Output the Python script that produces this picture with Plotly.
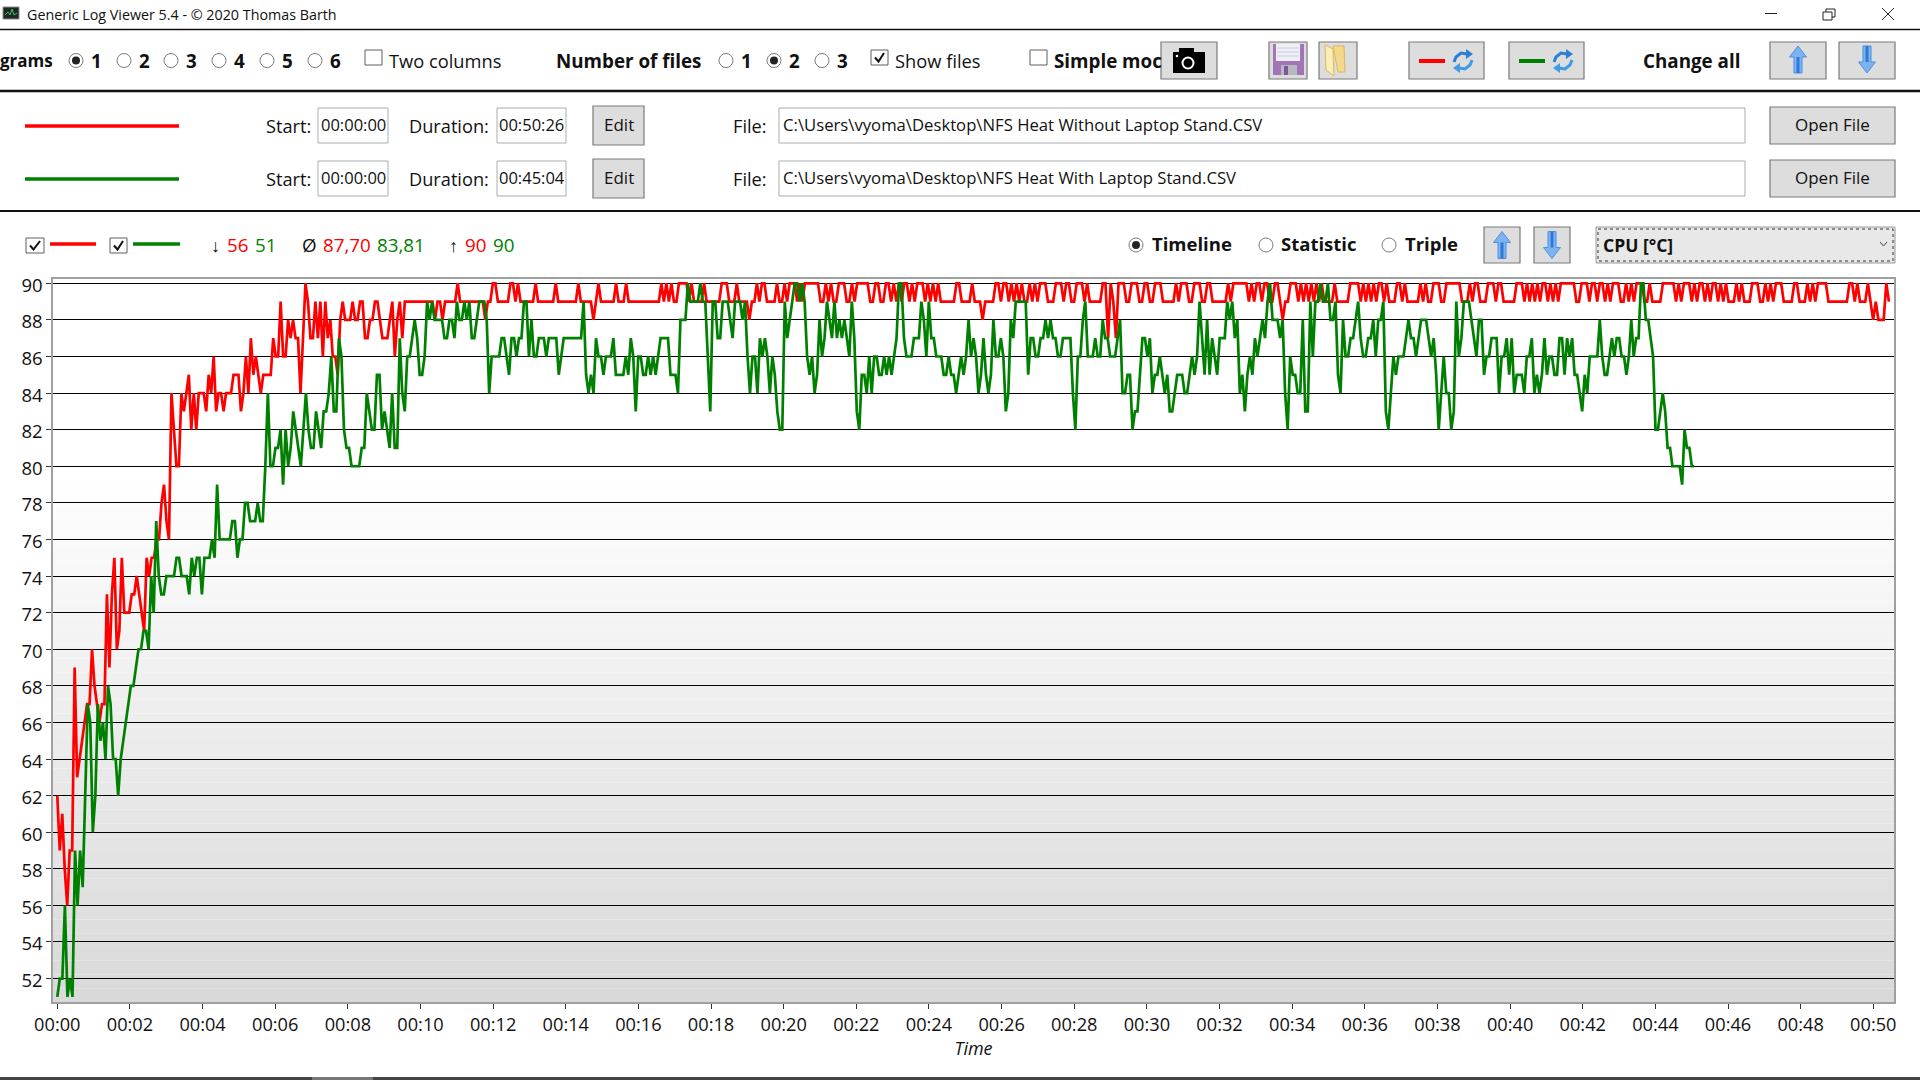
import numpy as np
import plotly.graph_objects as go

# CPU temperature log in five stretches so the time stays anchored
red_a = [62,59,61,58,56,59,59,69,63,64,65,66,67,67,70,68,67,66,67,67,73,69,73,75,70,71,75,72,72,72,73,73,74,73,72,71,75,74,75,75,76,76,78,79,77,76,84,82,80,80,84,83,84,85,82,84,82,84,84,84,83,85,84,86,83,84,84,83,84,84,84,85,85,85,83,84,86,84,87,85,86,85,84,85,85,85,85,87,86,86,89,86,86,88,87,88,87,87,84,87,90,89,87,87,89,87,89,86,89,87,88,86,86,85,88,89,88,88,88,89,88,88,89,89,87,87,88,88,89,89,88,87,87,87,88,89,86,88,89]
red_b = [87,89,89,89,89,89,89,89,89,89,89,89,89,88,89,89,88,89,89,89,89,89,90,89,89,89,89,89,89,89,89,89,89,88,89,89,90,90,89,89,89,89,89,90,90,89,90,89,89,89,89,89,89,90,89,89,89,89,89,89,89,90,89,89,89,89,89,89,89,89,90,89,89,89,89,89,88,89,90,89,89,89,89,89,89,90,89,89,89,90,89,89,89,89,89,89,89,89,89,89,89,89,89,90,89,90,89,90,89,89,90,90,90,90,89,90,89,89,89,89,90,89,89,89,89,89,89,90,90,90,89,89,89,90,89,89,89,89,88,89,89,90,89,90,90,89,89,89,89,90,89,89,90,89,90,90,90,89,90]
red_c = [89,90,90,90,90,90,90,89,89,90,89,90,89,89,90,90,90,89,89,90,89,90,90,90,90,90,89,89,90,90,89,89,90,90,89,90,89,90,89,90,90,89,90,89,90,90,90,89,90,89,90,89,90,89,89,89,89,89,89,90,90,89,89,89,89,90,89,89,89,88,89,89,89,89,90,90,89,90,90,89,90,89,90,89,90,89,89,90,89,90,89,90,90,90,89,89,89,90,90,90,89,90,90,89,89,90,90,90,89,90,89,89,89,89,89,90,90,87,90,89,87,90,90,90,89,89,90,90,90,89,89,90,90,89,89,90,90,90,89,89,89,89,89,90,89,90,90,90,89,89,90,90,90]
red_d = [89,89,90,90,89,89,89,89,89,89,90,89,90,90,90,90,90,90,89,90,89,90,90,89,90,90,89,89,90,90,89,88,89,89,90,90,90,89,90,89,90,89,90,89,90,89,90,89,89,89,89,90,89,89,89,89,89,90,90,90,90,89,90,89,90,89,90,89,90,90,89,90,89,89,89,90,90,89,90,89,89,89,89,89,90,89,90,89,89,90,90,90,89,89,90,90,90,90,90,90,89,89,89,90,89,90,90,89,89,89,90,90,90,89,90,90,89,89,89,89,89,90,90,90,89,90,89,90,89,90,89,90,90,89,90,89,90,89,90,90,90,90,90,90,89,89,90,90,90,89,90,90,89,90]
red_e = [90,89,90,89,90,90,90,89,89,90,89,90,89,90,90,90,89,89,90,89,89,89,89,90,90,90,90,90,89,90,89,90,90,90,89,90,89,90,90,89,90,89,90,90,89,90,89,90,89,89,89,90,89,90,89,89,89,90,90,90,89,89,90,89,90,89,90,90,90,89,89,89,89,90,90,89,89,89,90,89,90,89,90,90,90,90,89,89,89,89,89,89,89,89,90,90,89,90,89,89,89,90,89,88,89,88,88,88,90,89]

green_a = [51,52,52,56,51,52,51,59,56,59,57,62,67,66,60,62,67,65,66,64,68,67,64,64,62,64,65,66,67,68,68,69,70,70,71,71,70,74,72,77,74,73,73,74,74,74,74,75,75,74,74,74,73,75,74,75,75,73,75,75,75,76,75,79,76,76,76,76,76,77,77,75,76,76,78,78,77,77,77,78,77,77,80,84,80,80,81,81,82,79,82,80,81,83,82,81,80,82,84,82,81,81,83,82,81,83,83,84,86,83,83,87,86,82,81,81,80,80,80,80,81,81,84,83,82,82,85,85,82,83,82,81,84,81,81,87]
green_b = [84,83,86,86,87,88,87,85,85,86,89,88,89,88,88,88,88,87,87,88,88,87,89,88,88,89,88,89,87,87,88,89,89,89,88,84,86,86,86,86,87,87,86,85,87,87,86,87,87,89,89,86,88,86,86,87,87,87,86,87,87,87,87,85,86,87,87,87,87,87,87,87,87,89,85,84,85,84,87,86,86,85,86,86,86,87,85,85,85,85,86,85,87,86,83,86,86,85,85,86,85,86,85,86,87,87,87,87,85,85,85,84,88,88,88,90,89,89,89,89,90,89,89,86,83,89,89,87,87,89,89,89,88,87,89,89,89,88,89,86,84,86,86,84,87,86,87,86,84,86,85,83,82,82,89,87,88,89,90,90,89]
green_c = [90,89,86,85,86,84,85,88,86,87,89,88,87,89,87,88,87,88,87,86,89,87,83,82,85,85,84,86,84,86,86,85,85,86,85,86,85,86,87,90,90,87,86,86,86,87,87,87,89,88,86,89,87,87,86,86,86,85,85,86,85,85,84,85,86,85,86,88,86,87,86,84,85,87,85,84,85,88,86,86,87,86,83,84,88,87,89,89,89,89,89,85,87,87,86,86,87,87,88,87,88,87,87,86,86,87,87,87,87,84,82,86,86,88,89,86,86,86,87,86,86,88,87,87,86,86,86,87,88,84,84,85,85,82,83,83,85,87,87,86,87,84,85,85,86,85,84,85,83,83,84,85,85,85,84,84,85,86,85,86,89]
green_d = [87,85,88,85,87,86,85,87,87,87,89,88,89,87,88,84,85,83,85,86,85,87,86,87,88,87,89,90,88,88,88,87,88,84,82,86,85,85,84,84,88,83,83,89,86,89,89,90,89,89,90,88,88,89,85,84,88,86,86,87,87,88,89,87,86,86,87,87,88,86,88,88,89,83,82,84,86,85,86,86,86,87,88,87,87,86,87,88,88,88,87,86,87,85,82,84,86,84,84,82,83,89,86,87,89,89,89,88,87,86,88,88,85,86,86,87,87,87,84,86,86,87,85,87,84,85,85,85,84,86,86,87,84,85,84,85,87,85,86,86,85,85,87,87,85,87,86,87,85,85,84,83,85,84,86,86,86,86,88]
green_e = [86,85,85,86,87,86,87,87,86,86,85,86,88,86,87,87,90,90,88,88,87,86,82,82,83,84,83,81,81,80,80,80,80,79,82,81,81,80,80]

red_edges = [0, 9.43, 20.44, 31.45, 42.47, 50.43]
green_edges = [0, 9.43, 20.44, 31.45, 42.47, 45.07]

y_ticks = list(range(52, 91, 2))
x_ticks = list(range(0, 51, 2))
x_labels = [f"00:{m:02d}" for m in x_ticks]

RED = "#ff0000"
GREEN = "#008000"
FONT = "Open Sans"

# plot area in window pixels
PL, PR, PT, PB = 53, 1894, 279, 1002


def times(segments, edges):
    out = []
    for k, seg in enumerate(segments):
        t = np.linspace(edges[k], edges[k + 1], len(seg) + (k > 0))
        out.extend(t[1:] if k > 0 else t)
    return out


def fx(px):
    return (px - PL) / (PR - PL)


def fy(py):
    return (PB - py) / (PB - PT)


shapes = []
notes = []


def rect(x0, y0, x1, y1, fill="rgba(0,0,0,0)", line="rgba(0,0,0,0)", w=1, dash="solid", layer="above"):
    shapes.append(dict(type="rect", xref="paper", yref="paper", x0=fx(x0), x1=fx(x1), y0=fy(y0), y1=fy(y1),
                       fillcolor=fill, line=dict(color=line, width=w, dash=dash), layer=layer))


def hline(x0, x1, y, color, w):
    shapes.append(dict(type="line", xref="paper", yref="paper", x0=fx(x0), x1=fx(x1), y0=fy(y), y1=fy(y),
                       line=dict(color=color, width=w)))


def poly(points, fill="rgba(0,0,0,0)", line="rgba(0,0,0,0)", w=1, close=True):
    d = "M " + " L ".join(f"{fx(a):.5f},{fy(b):.5f}" for a, b in points) + (" Z" if close else "")
    shapes.append(dict(type="path", xref="paper", yref="paper", path=d, fillcolor=fill, line=dict(color=line, width=w)))


def disc(cx, cy, r, fill, line="rgba(0,0,0,0)", w=0):
    shapes.append(dict(type="circle", xref="paper", yref="paper", x0=fx(cx - r), x1=fx(cx + r), y0=fy(cy - r),
                       y1=fy(cy + r), fillcolor=fill, line=dict(color=line, width=w)))


def text(x, y, s, size=18, bold=False, color="#111111", anchor="left"):
    # annotations sit a little low and right of the measured spots
    if anchor == "left":
        x -= 1
    notes.append(dict(xref="paper", yref="paper", x=fx(x), y=fy(y - 1.2), text=f"<b>{s}</b>" if bold else s,
                      showarrow=False, xanchor=anchor, yanchor="middle",
                      font=dict(family=FONT, size=size, color=color), borderpad=0))


def radio(x, y, on=False):
    disc(x, y, 7, "#ffffff", "#7a7a7a", 1)
    if on:
        disc(x, y, 4, "#222222")


def check(x0, y0, x1, y1, on=False):
    rect(x0, y0, x1, y1, "#ffffff", "#5f5f5f", 1)
    if on:
        poly([(x0 + 4, (y0 + y1) / 2), (x0 + 7.5, y1 - 3.5), (x1 - 4, y0 + 3)], line="#111111", w=2, close=False)


def button(x0, y0, x1, y1, label=None):
    rect(x0, y0, x1, y1, "#dddddd", "#7a7a7a", 1.2)
    if label:
        text((x0 + x1) / 2, (y0 + y1) / 2, label, 17, anchor="center")


def arrow(cx, cy, up=True):
    s = -1 if up else 1
    tip = cy + s * 13.5
    base = tip - s * 11
    tail = cy - s * 13.5
    poly([(cx, tip), (cx - 8.5, base), (cx - 4, base), (cx - 4, tail), (cx + 4, tail), (cx + 4, base), (cx + 8.5, base)],
         fill="#7db3f2", line="#4f8fe0", w=1)
    rect(cx - 1.5, min(base, tail), cx + 1.5, max(base, tail), "#2f78d8")


def swap_icon(cx, cy):
    c1, c2 = "#2b7fd4", "#3f9be8"
    poly([(cx + 4, cy - 7), (cx - 2, cy - 8), (cx - 7, cy - 4), (cx - 9, cy + 1)], line=c1, w=3, close=False)
    poly([(cx + 3, cy - 12), (cx + 10, cy - 7), (cx + 3, cy - 2)], fill=c1)
    poly([(cx - 4, cy + 7), (cx + 2, cy + 8), (cx + 7, cy + 4), (cx + 9, cy - 1)], line=c2, w=3, close=False)
    poly([(cx - 3, cy + 12), (cx - 10, cy + 7), (cx - 3, cy + 2)], fill=c2)


# gradient of the plot background, one band per grey level
for i in range(38):
    y0 = 480 + (PB - 480) * i / 38
    y1 = 480 + (PB - 480) * (i + 1) / 38
    g = 254 - i
    rect(PL, y0, PR, y1, f"rgb({g},{g},{g})", layer="below")

# title bar
rect(3, 7, 19, 19, "#1c2a26", "#8a8a8a", 1)
poly([(5, 15), (8, 12), (10, 15), (12, 9), (14, 15), (17, 13)], line="#40c060", w=1, close=False)
text(27, 16, "Generic Log Viewer 5.4 - © 2020 Thomas Barth", 14.3)
hline(1765, 1777, 13.5, "#222222", 1)
rect(1823, 12, 1832, 20, line="#222222", w=1)
poly([(1826, 12), (1826, 9), (1835, 9), (1835, 17), (1832, 17)], line="#222222", w=1, close=False)
poly([(1882, 8), (1894, 20)], line="#222222", w=1, close=False)
poly([(1894, 8), (1882, 20)], line="#222222", w=1, close=False)
hline(0, 1920, 29.5, "#111111", 1.5)

# top controls
text(54, 62, "grams", 17, True, anchor="right")
for x, d, on in zip([76, 124, 171, 219, 267, 315], "123456", [True] + [False] * 5):
    radio(x, 60.5, on)
    text(x + 15, 62, d, 18.8, True)
check(365, 50, 382, 65)
text(389, 62, "Two columns", 18.3)
text(556, 62, "Number of files", 18.8, True)
for x, d, on in zip([726, 774, 822], "123", [False, True, False]):
    radio(x, 60.5, on)
    text(x + 15, 62, d, 18.8, True)
check(871, 50, 888, 65, True)
text(895, 62, "Show files", 18.3)
check(1030, 50, 1047, 65)
text(1054, 62, "Simple moc", 18.8, True)

# camera
button(1161, 42, 1217, 79)
rect(1173, 52, 1205, 73, "#000000")
rect(1179, 48, 1194, 53, "#000000")
disc(1188, 63, 5.5, "#000000", "#ffffff", 2)
disc(1177, 56, 1.3, "#ffffff")

# floppy and folder
button(1269, 42, 1307, 79)
rect(1273, 44, 1304, 75, "#a274b8")
rect(1276, 44, 1300, 61, "#eef0f6")
for ly in [48, 52, 56]:
    hline(1277, 1299, ly, "#c8cce0", 1)
rect(1281, 65, 1297, 75, "#b8b8c0")
rect(1284, 66, 1288, 75, "#7a5a90")
button(1319, 42, 1357, 79)
poly([(1333, 46), (1344, 46), (1345, 72), (1338, 72)], fill="#f4d98a", line="#d8b860")
poly([(1325, 45), (1333, 49), (1334, 76), (1326, 70)], fill="#fbeeb4", line="#d8b860")

button(1409, 42, 1484, 79)
rect(1419, 59, 1445, 63, RED)
swap_icon(1463, 61)
button(1509, 42, 1584, 79)
rect(1519, 59, 1545, 63, GREEN)
swap_icon(1563, 61)
text(1643, 62, "Change all", 18.8, True)
button(1770, 42, 1826, 79)
arrow(1798, 59.5, True)
button(1839, 42, 1895, 79)
arrow(1867, 59.5, False)
hline(0, 1920, 91, "#111111", 2.5)

# file rows
for cy, color, dur, path in [(126, RED, "00:50:26", r"C:\Users\vyoma\Desktop\NFS Heat Without Laptop Stand.CSV"),
                             (179, GREEN, "00:45:04", r"C:\Users\vyoma\Desktop\NFS Heat With Laptop Stand.CSV")]:
    hline(25, 179, cy, color, 3.5)
    text(266, cy + 1, "Start:", 18.2)
    rect(318, cy - 18, 388, cy + 17, "#ffffff", "#abadb3", 1)
    text(353, cy, "00:00:00", 16.5, anchor="center")
    text(409, cy + 1, "Duration:", 18.2)
    rect(497, cy - 18, 566, cy + 17, "#ffffff", "#abadb3", 1)
    text(531.5, cy, dur, 16.5, anchor="center")
    button(593, cy - 20, 644, cy + 19, "Edit")
    text(733, cy + 1, "File:", 18.2)
    rect(779, cy - 18, 1745, cy + 17, "#ffffff", "#abadb3", 1)
    text(783, cy, path, 16.7)
    button(1770, cy - 19, 1895, cy + 18, "Open File")
hline(0, 1920, 211, "#111111", 2)

# legend row
check(26, 238, 44, 253, True)
hline(50, 96, 244, RED, 3.5)
check(110, 238, 127, 253, True)
hline(133, 180, 244, GREEN, 3.5)
text(215, 246, "↓", 18, anchor="center")
text(227, 246, "56", 18.8, color=RED)
text(255, 246, "51", 18.8, color=GREEN)
text(302, 246, "Ø", 18.8)
text(323, 246, "87,70", 18.8, color=RED)
text(377, 246, "83,81", 18.8, color=GREEN)
text(453, 246, "↑", 18, anchor="center")
text(465, 246, "90", 18.8, color=RED)
text(493, 246, "90", 18.8, color=GREEN)

radio(1136, 245, True)
text(1152, 245, "Timeline", 18.5, True)
radio(1266, 245)
text(1281, 245, "Statistic", 18.5, True)
radio(1389, 245)
text(1405, 245, "Triple", 18.5, True)
button(1484, 227, 1520, 263)
arrow(1502, 245, True)
button(1534, 227, 1570, 263)
arrow(1552, 245, False)
rect(1596, 227, 1895, 263, "#e8e8e8", "#9a9a9a", 1)
rect(1598, 229, 1893, 261, line="#333333", w=1, dash="dot")
text(1603, 246, "CPU [°C]", 17.5, True)
poly([(1880, 242), (1883.5, 246), (1887, 242)], line="#444444", w=1, close=False)

# bottom edge of the window
rect(0, 1077, 1920, 1080, "#444444")
rect(312, 1077, 373, 1080, "#777777")

fig = go.Figure()
fig.add_trace(go.Scatter(x=times([red_a, red_b, red_c, red_d, red_e], red_edges),
                         y=red_a + red_b + red_c + red_d + red_e,
                         mode="lines", line=dict(color=RED, width=2.7), name="NFS Heat Without Laptop Stand"))
fig.add_trace(go.Scatter(x=times([green_a, green_b, green_c, green_d, green_e], green_edges),
                         y=green_a + green_b + green_c + green_d + green_e,
                         mode="lines", line=dict(color=GREEN, width=2.7), name="NFS Heat With Laptop Stand"))

fig.update_layout(
    width=1920,
    height=1080,
    autosize=False,
    margin=dict(l=PL, r=1920 - PR, t=PT, b=1080 - PB, pad=0),
    paper_bgcolor="#ffffff",
    plot_bgcolor="#ffffff",
    showlegend=False,
    shapes=shapes,
    annotations=notes,
    font=dict(family=FONT, color="#111111"),
)
fig.update_xaxes(
    range=[-0.118, 50.57],
    tickmode="array",
    tickvals=x_ticks,
    ticktext=x_labels,
    ticks="outside",
    ticklen=5,
    tickcolor="#333333",
    tickfont=dict(size=18.2),
    showgrid=False,
    zeroline=False,
    showline=True,
    linecolor="#a0a0a0",
    linewidth=1.5,
    mirror=True,
    title=dict(text="Time", font=dict(size=18, style="italic"), standoff=8),
)
fig.update_yaxes(
    range=[50.72, 90.235],
    tickmode="array",
    tickvals=y_ticks,
    ticks="outside",
    ticklen=5,
    tickcolor="#333333",
    tickfont=dict(size=18.5),
    ticklabelshift=2,
    showgrid=True,
    gridcolor="#000000",
    gridwidth=1.3,
    zeroline=False,
    showline=True,
    linecolor="#a0a0a0",
    linewidth=1.5,
    mirror=True,
)

fig.write_html("out.html", config=dict(displayModeBar=False), post_script="document.body.style.margin='0'")
